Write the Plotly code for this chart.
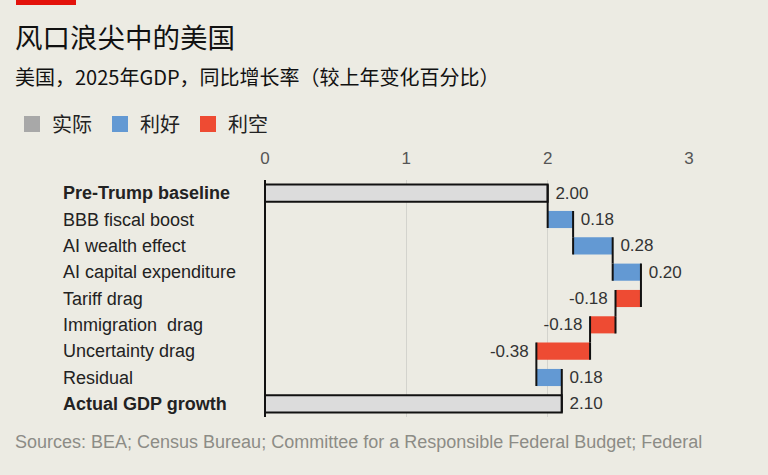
import plotly.graph_objects as go

categories = ["Pre-Trump baseline", "BBB fiscal boost", "AI wealth effect",
              "AI capital expenditure", "Tariff drag", "Immigration  drag",
              "Uncertainty drag", "Residual", "Actual GDP growth"]
values = [2.00, 0.18, 0.28, 0.20, -0.18, -0.18, -0.38, 0.18, 2.10]
measures = ["absolute", "relative", "relative", "relative", "relative",
            "relative", "relative", "relative", "total"]
bold_rows = ["Pre-Trump baseline", "Actual GDP growth"]
x_ticks = [0, 1, 2, 3]
legend_names = ["实际", "利好", "利空"]

BG = "#ecebe3"
GRAY_FILL = "#dcdcdc"
GRAY_LEG = "#a8a8a8"
BLUE = "#6399d3"
RED = "#ee4b33"
FONT = "Liberation Sans, Arial, Noto Sans CJK SC, sans-serif"
CJK = "Noto Sans CJK SC, Liberation Sans, sans-serif"
NB = "\u00a0"

# plot area geometry (pixels)
W, H = 768, 475
L, R, T, B = 265, 79, 180, 58
pw, ph = W - L - R, H - T - B

def px_x(px):
    return (px - L) / pw

def px_y(py):
    return 1 - (py - T) / ph

labels = [(NB + f"{v:.2f}") if v >= 0 else (f"{v:.2f}" + NB) for v in values]

fig = go.Figure()
fig.add_trace(go.Waterfall(
    orientation="h",
    y=categories,
    x=values,
    measure=measures,
    text=labels,
    textposition="outside",
    constraintext="none",
    textfont=dict(size=17, color="#333333", family=FONT),
    cliponaxis=False,
    increasing=dict(marker=dict(color=BLUE, line=dict(width=0))),
    decreasing=dict(marker=dict(color=RED, line=dict(width=0))),
    totals=dict(marker=dict(color=GRAY_FILL, line=dict(color="#111111", width=2))),
    connector=dict(mode="spanning", line=dict(color="#111111", width=2)),
    showlegend=False,
    hoverinfo="skip",
))

for name, col in zip(legend_names, [GRAY_LEG, BLUE, RED]):
    fig.add_trace(go.Scatter(
        x=[None], y=[None], mode="markers", name=name,
        marker=dict(symbol="square", size=16, color=col),
        showlegend=True,
    ))

annotations = []
for c in categories:
    txt = f"<b>{c}</b>" if c in bold_rows else c
    annotations.append(dict(
        x=px_x(61), xref="paper", y=c, yref="y", text=txt,
        xanchor="left", yanchor="middle", showarrow=False,
        font=dict(size=18, color="#222222", family=FONT),
    ))

annotations += [
    dict(x=px_x(13), xref="paper", y=px_y(36), yref="paper",
         text="风口浪尖中的美国", showarrow=False, xanchor="left", yanchor="middle",
         font=dict(size=27.5, color="#111111", family=CJK)),
    dict(x=px_x(13), xref="paper", y=px_y(76), yref="paper",
         text="美国，2025年GDP，同比增长率（较上年变化百分比）", showarrow=False,
         xanchor="left", yanchor="middle",
         font=dict(size=20, color="#111111", family=CJK)),
    dict(x=px_x(13), xref="paper", y=px_y(442), yref="paper",
         text="Sources: BEA; Census Bureau; Committee for a Responsible Federal Budget; Federal",
         showarrow=False, xanchor="left", yanchor="middle",
         font=dict(size=18, color="#8c8c86", family=FONT)),
]

shapes = [dict(type="rect", xref="paper", yref="paper",
               x0=px_x(16), x1=px_x(76), y0=px_y(5), y1=px_y(0),
               fillcolor="#e3120b", line=dict(width=0))]

fig.update_layout(
    width=W, height=H,
    margin=dict(l=L, r=R, t=T, b=B, pad=0),
    paper_bgcolor=BG, plot_bgcolor=BG,
    font=dict(family=FONT, size=17, color="#333333"),
    waterfallgap=0.35,
    showlegend=True,
    legend=dict(orientation="h", x=px_x(12), y=px_y(124), xanchor="left",
                yanchor="middle", font=dict(size=20, color="#222222", family=CJK),
                bgcolor="rgba(0,0,0,0)", itemsizing="trace", traceorder="normal",
                entrywidth=43, entrywidthmode="pixels"),
    annotations=annotations,
    shapes=shapes,
    xaxis=dict(range=[0, 3], side="top", tickvals=x_ticks,
               ticktext=[str(t) for t in x_ticks],
               showgrid=True, gridcolor="#d3d3cd", gridwidth=1,
               zeroline=True, zerolinecolor="#111111", zerolinewidth=2,
               showline=False, ticks="", ticklabelstandoff=12,
               tickfont=dict(size=17, color="#555555", family=FONT)),
    yaxis=dict(autorange="reversed", showticklabels=False, showgrid=False,
               zeroline=False, showline=False, ticks=""),
)

fig.write_html("out.html", config={"displayModeBar": False},
               post_script="document.body.style.margin='0';")
